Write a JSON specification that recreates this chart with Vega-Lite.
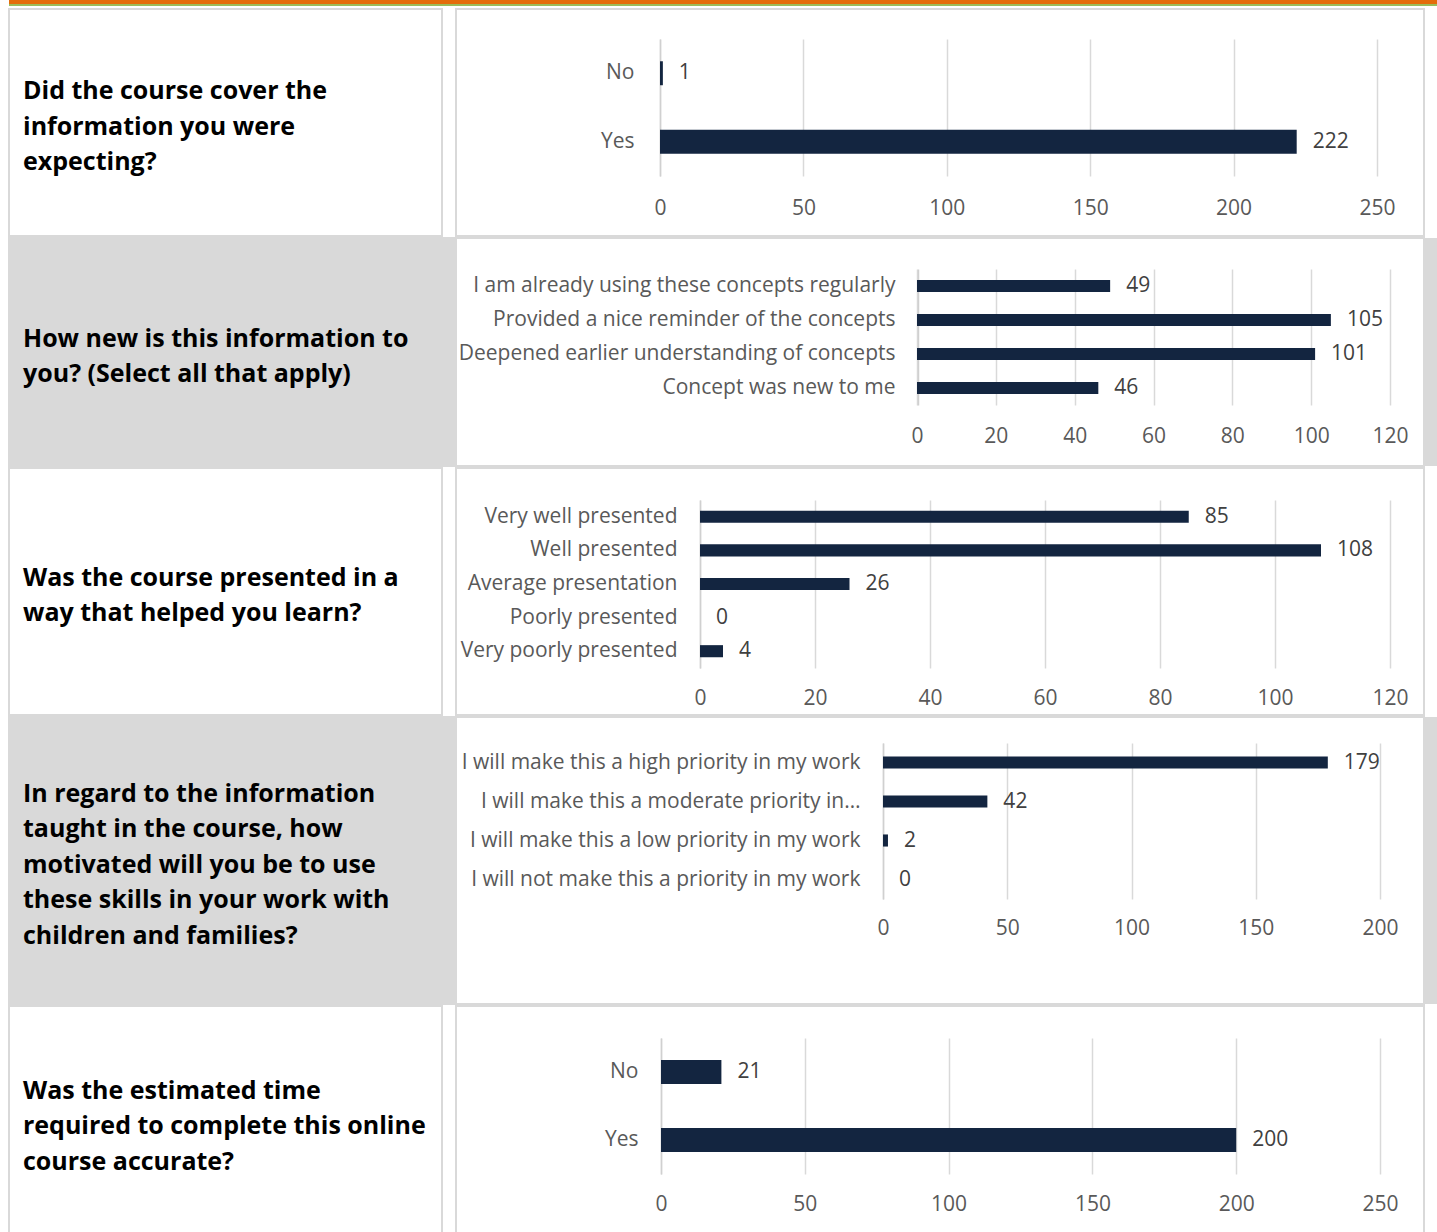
{
  "$schema": "https://vega.github.io/schema/vega-lite/v6.json",
  "background": "white",
  "padding": {"left": 8, "top": 0, "right": 0, "bottom": 0},
  "config": {
    "axis": {"labelFont": "Open Sans", "labelFontSize": 21, "labelColor": "#595959", "gridColor": "#d9d9d9", "gridWidth": 1.5, "domainColor": "#d0d0d0", "domainWidth": 1.5, "title": null, "ticks": false},
    "text": {"font": "Open Sans"},
    "view": {"stroke": null}
  },
  "vconcat": [
    {"width": 1429, "height": 4, "view": {"fill": "#e46c0a", "stroke": null}, "data": {"values": []}, "mark": {"type": "text"}, "encoding": {"text": {"value": ""}}},
    {"width": 1429, "height": 2, "view": {"fill": "#9bbb59", "stroke": null}, "data": {"values": []}, "mark": {"type": "text"}, "encoding": {"text": {"value": ""}}},
    {"width": 1429, "height": 2, "view": {"fill": "white", "stroke": null}, "data": {"values": []}, "mark": {"type": "text"}, "encoding": {"text": {"value": ""}}},
    {
      "hconcat": [
        {
          "width": 433, "height": 227,
          "view": {"fill": "white", "stroke": "#d9d9d9", "strokeWidth": 2},
          "data": {"values": [{"q1": "Did the course cover the\ninformation you were\nexpecting?"}]},
          "mark": {"type": "text", "align": "left", "baseline": "middle", "lineBreak": "\n", "fontWeight": "bold", "fontSize": 25, "lineHeight": 35.5, "dy": -31.5, "color": "black"},
          "encoding": {"x": {"value": 14}, "y": {"field": "q1", "type": "nominal", "axis": null}, "text": {"field": "q1"}}
        },
        {
          "width": 968, "height": 227,
          "view": {"fill": "white", "stroke": "#d9d9d9", "strokeWidth": 2},
          "data": {"values": [{"cat": "No", "n": 1}, {"cat": "Yes", "n": 222}]},
          "encoding": {
            "y": {"field": "cat", "type": "nominal", "sort": null, "scale": {"range": [30, 167], "paddingInner": 0.65, "paddingOuter": 0.325},
                  "axis": {"offset": -204, "labelPadding": 26, "labelLimit": 700, "grid": false}},
            "x": {"field": "n", "type": "quantitative", "scale": {"domain": [0, 250], "range": [204, 921]},
                  "axis": {"orient": "top", "values": [0, 50, 100, 150, 200, 250], "domain": false, "labelPadding": -199, "labelBaseline": "middle", "labelFlush": false, "labelOverlap": false}}
          },
          "layer": [
            {"mark": {"type": "bar", "color": "#132540"}},
            {"mark": {"type": "text", "align": "left", "baseline": "middle", "dx": 16, "fontSize": 21, "color": "#404040"}, "encoding": {"text": {"field": "n", "type": "quantitative"}}}
          ]
        }
      ],
      "spacing": 14, "bounds": "flush"
    },
    {
      "hconcat": [
        {
          "width": 447, "height": 228,
          "view": {"fill": "#d9d9d9", "stroke": "#d9d9d9", "strokeWidth": 2},
          "data": {"values": [{"q2": "How new is this information to\nyou? (Select all that apply)"}]},
          "mark": {"type": "text", "align": "left", "baseline": "middle", "lineBreak": "\n", "fontWeight": "bold", "fontSize": 25, "lineHeight": 35.5, "dy": -13.5, "color": "black"},
          "encoding": {"x": {"value": 14}, "y": {"field": "q2", "type": "nominal", "axis": null}, "text": {"field": "q2"}}
        },
        {
          "width": 968, "height": 228,
          "view": {"fill": "white", "stroke": "#d9d9d9", "strokeWidth": 2},
          "data": {"values": [
            {"cat": "I am already using these concepts regularly", "n": 49},
            {"cat": "Provided a nice reminder of the concepts", "n": 105},
            {"cat": "Deepened earlier understanding of concepts", "n": 101},
            {"cat": "Concept was new to me", "n": 46}
          ]},
          "encoding": {
            "y": {"field": "cat", "type": "nominal", "sort": null, "scale": {"range": [31, 167], "paddingInner": 0.65, "paddingOuter": 0.325},
                  "axis": {"offset": -462, "labelPadding": 23, "labelLimit": 700, "grid": false}},
            "x": {"field": "n", "type": "quantitative", "scale": {"domain": [0, 120], "range": [461, 934]},
                  "axis": {"orient": "top", "values": [0, 20, 40, 60, 80, 100, 120], "domain": false, "labelPadding": -198, "labelBaseline": "middle", "labelFlush": false, "labelOverlap": false}}
          },
          "layer": [
            {"mark": {"type": "bar", "color": "#132540"}},
            {"mark": {"type": "text", "align": "left", "baseline": "middle", "dx": 16, "fontSize": 21, "color": "#404040"}, "encoding": {"text": {"field": "n", "type": "quantitative"}}}
          ]
        },
        {"width": 14, "height": 228, "view": {"fill": "#d9d9d9", "stroke": null}, "data": {"values": []}, "mark": {"type": "text"}, "encoding": {"text": {"value": ""}}}
      ],
      "spacing": 0, "bounds": "flush"
    },
    {
      "hconcat": [
        {
          "width": 433, "height": 247,
          "view": {"fill": "white", "stroke": "#d9d9d9", "strokeWidth": 2},
          "data": {"values": [{"q3": "Was the course presented in a\nway that helped you learn?"}]},
          "mark": {"type": "text", "align": "left", "baseline": "middle", "lineBreak": "\n", "fontWeight": "bold", "fontSize": 25, "lineHeight": 35.5, "dy": -13.75, "color": "black"},
          "encoding": {"x": {"value": 14}, "y": {"field": "q3", "type": "nominal", "axis": null}, "text": {"field": "q3"}}
        },
        {
          "width": 968, "height": 247,
          "view": {"fill": "white", "stroke": "#d9d9d9", "strokeWidth": 2},
          "data": {"values": [
            {"cat": "Very well presented", "n": 85},
            {"cat": "Well presented", "n": 108},
            {"cat": "Average presentation", "n": 26},
            {"cat": "Poorly presented", "n": 0},
            {"cat": "Very poorly presented", "n": 4}
          ]},
          "encoding": {
            "y": {"field": "cat", "type": "nominal", "sort": null, "scale": {"range": [32, 200], "paddingInner": 0.64, "paddingOuter": 0.32},
                  "axis": {"offset": -244, "labelPadding": 23, "labelLimit": 700, "grid": false}},
            "x": {"field": "n", "type": "quantitative", "scale": {"domain": [0, 120], "range": [244, 934]},
                  "axis": {"orient": "top", "values": [0, 20, 40, 60, 80, 100, 120], "domain": false, "labelPadding": -230, "labelBaseline": "middle", "labelFlush": false, "labelOverlap": false}}
          },
          "layer": [
            {"mark": {"type": "bar", "color": "#132540"}},
            {"mark": {"type": "text", "align": "left", "baseline": "middle", "dx": 16, "fontSize": 21, "color": "#404040"}, "encoding": {"text": {"field": "n", "type": "quantitative"}}}
          ]
        }
      ],
      "spacing": 14, "bounds": "flush"
    },
    {
      "hconcat": [
        {
          "width": 447, "height": 287,
          "view": {"fill": "#d9d9d9", "stroke": "#d9d9d9", "strokeWidth": 2},
          "data": {"values": [{"q4": "In regard to the information\ntaught in the course, how\nmotivated will you be to use\nthese skills in your work with\nchildren and families?"}]},
          "mark": {"type": "text", "align": "left", "baseline": "middle", "lineBreak": "\n", "fontWeight": "bold", "fontSize": 25, "lineHeight": 35.5, "dy": -67, "color": "black"},
          "encoding": {"x": {"value": 14}, "y": {"field": "q4", "type": "nominal", "axis": null}, "text": {"field": "q4"}}
        },
        {
          "width": 968, "height": 287,
          "view": {"fill": "white", "stroke": "#d9d9d9", "strokeWidth": 2},
          "data": {"values": [
            {"cat": "I will make this a high priority in my work", "n": 179},
            {"cat": "I will make this a moderate priority in…", "n": 42},
            {"cat": "I will make this a low priority in my work", "n": 2},
            {"cat": "I will not make this a priority in my work", "n": 0}
          ]},
          "encoding": {
            "y": {"field": "cat", "type": "nominal", "sort": null, "scale": {"range": [26, 182], "paddingInner": 0.69, "paddingOuter": 0.345},
                  "axis": {"offset": -427, "labelPadding": 23, "labelLimit": 700, "grid": false}},
            "x": {"field": "n", "type": "quantitative", "scale": {"domain": [0, 200], "range": [427, 924]},
                  "axis": {"orient": "top", "values": [0, 50, 100, 150, 200], "domain": false, "labelPadding": -211, "labelBaseline": "middle", "labelFlush": false, "labelOverlap": false}}
          },
          "layer": [
            {"mark": {"type": "bar", "color": "#132540"}},
            {"mark": {"type": "text", "align": "left", "baseline": "middle", "dx": 16, "fontSize": 21, "color": "#404040"}, "encoding": {"text": {"field": "n", "type": "quantitative"}}}
          ]
        },
        {"width": 14, "height": 287, "view": {"fill": "#d9d9d9", "stroke": null}, "data": {"values": []}, "mark": {"type": "text"}, "encoding": {"text": {"value": ""}}}
      ],
      "spacing": 0, "bounds": "flush"
    },
    {
      "hconcat": [
        {
          "width": 433, "height": 232,
          "view": {"fill": "white", "stroke": "#d9d9d9", "strokeWidth": 2},
          "data": {"values": [{"q5": "Was the estimated time\nrequired to complete this online\ncourse accurate?"}]},
          "mark": {"type": "text", "align": "left", "baseline": "middle", "lineBreak": "\n", "fontWeight": "bold", "fontSize": 25, "lineHeight": 35.5, "dy": -31.5, "color": "black"},
          "encoding": {"x": {"value": 14}, "y": {"field": "q5", "type": "nominal", "axis": null}, "text": {"field": "q5"}}
        },
        {
          "width": 968, "height": 232,
          "view": {"fill": "white", "stroke": "#d9d9d9", "strokeWidth": 2},
          "data": {"values": [{"cat": "No", "n": 21}, {"cat": "Yes", "n": 200}]},
          "encoding": {
            "y": {"field": "cat", "type": "nominal", "sort": null, "scale": {"range": [32, 168], "paddingInner": 0.65, "paddingOuter": 0.325},
                  "axis": {"offset": -205, "labelPadding": 23, "labelLimit": 700, "grid": false}},
            "x": {"field": "n", "type": "quantitative", "scale": {"domain": [0, 250], "range": [205, 924]},
                  "axis": {"orient": "top", "values": [0, 50, 100, 150, 200, 250], "domain": false, "labelPadding": -198, "labelBaseline": "middle", "labelFlush": false, "labelOverlap": false}}
          },
          "layer": [
            {"mark": {"type": "bar", "color": "#132540"}},
            {"mark": {"type": "text", "align": "left", "baseline": "middle", "dx": 16, "fontSize": 21, "color": "#404040"}, "encoding": {"text": {"field": "n", "type": "quantitative"}}}
          ]
        }
      ],
      "spacing": 14, "bounds": "flush"
    }
  ],
  "spacing": 0
}
